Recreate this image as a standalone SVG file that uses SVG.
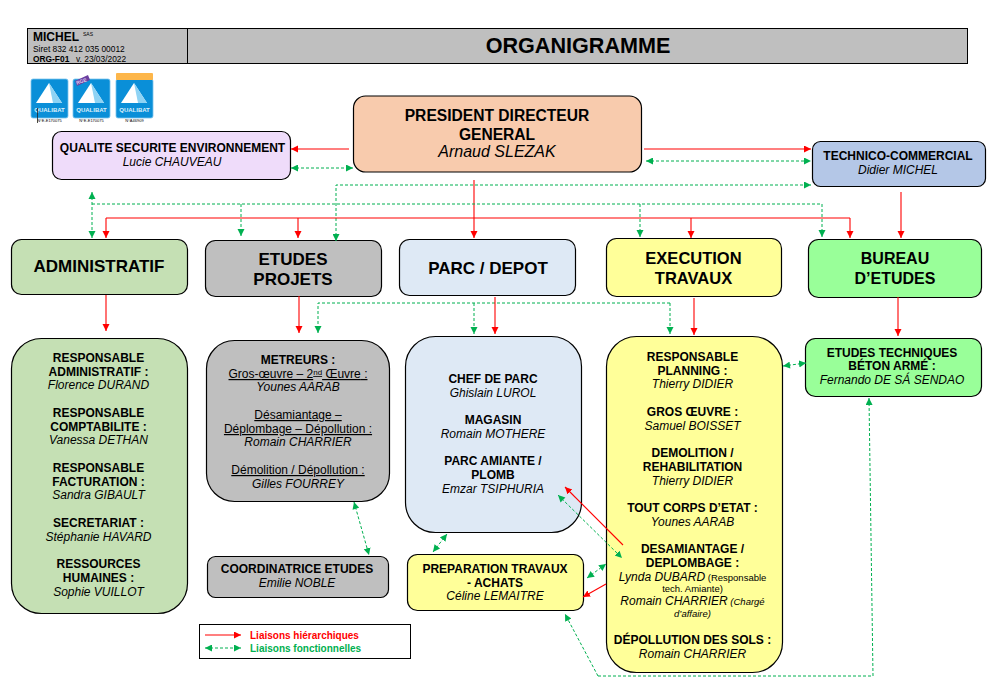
<svg xmlns="http://www.w3.org/2000/svg" width="997" height="682" viewBox="0 0 997 682">
<style>
text{font-family:"Liberation Sans",Arial,sans-serif;fill:#000;text-anchor:middle}
.b{font-weight:bold}.i{font-style:italic}.u{text-decoration:underline}
.n{stroke:#000;stroke-width:1.2}
.s{font-size:12px}.m{font-size:16px}.l{font-size:17px}
.r{fill:none;stroke:#f00;stroke-width:1.1}
.g{fill:none;stroke:#00b050;stroke-width:1;stroke-dasharray:3 2}
.ra{marker-end:url(#R)}.ga{marker-end:url(#G)}.gb{marker-start:url(#GS);marker-end:url(#G)}
.st{text-anchor:start}
</style>
<defs>
<marker id="R" markerUnits="userSpaceOnUse" markerWidth="8" markerHeight="8" refX="7" refY="3.500" orient="auto"><path d="M0 0L7 3.500L0 7z" fill="#f00"/></marker>
<marker id="G" markerUnits="userSpaceOnUse" markerWidth="8" markerHeight="8" refX="7" refY="3.500" orient="auto"><path d="M0 0L7 3.500L0 7z" fill="#00b050"/></marker>
<marker id="GS" markerUnits="userSpaceOnUse" markerWidth="8" markerHeight="8" refX="0" refY="3.500" orient="auto"><path d="M7 0L0 3.500L7 7z" fill="#00b050"/></marker>
<g id="pyr"><rect x="0" y="0" width="37" height="39" rx="2" fill="#0a8fd8" stroke="#7cc4ee" stroke-width="0.800"/><path d="M18 4L31 24H5z" fill="#fff"/><path d="M18 4L31 24L22 24z" fill="#8fd3f4"/></g>
</defs>
<g id="header">
<rect x="27.500" y="28.500" width="940" height="35" fill="#bfbfbf" stroke="#000"/>
<line x1="187.500" y1="28.500" x2="187.500" y2="63.500" stroke="#000"/>
<text class="b st" x="33" y="41" font-size="12">MICHEL</text>
<text class="st" x="83" y="35.500" font-size="5">SAS</text>
<text class="st" x="33" y="52" font-size="8.400">Siret 832 412 035 00012</text>
<text class="b st" x="33" y="62" font-size="8.400">ORG-F01</text>
<text class="st" x="76" y="62" font-size="8.400">v. 23/03/2022</text>
<text class="b" x="578" y="53" font-size="21.600">ORGANIGRAMME</text>
</g>
<g id="logos">
<use href="#pyr" x="31" y="79"/>
<text x="49.500" y="112" font-size="6" class="b" style="fill:#dff1fb">QUALIBAT</text>
<text x="49.500" y="122" font-size="4">N°E-E170075</text>
<line x1="37.500" y1="108" x2="37.500" y2="123" stroke="#222" stroke-width="0.800"/>
<use href="#pyr" x="73" y="79"/>
<path d="M75 81L88 75L90 80L77 86z" fill="#6b3fa0"/>
<text x="82" y="83" font-size="5" class="b" style="fill:#d9c8ee" transform="rotate(-20 82 83)">RGE</text>
<text x="91.500" y="112" font-size="6" class="b" style="fill:#dff1fb">QUALIBAT</text>
<text x="91.500" y="122" font-size="4">N°E-E170075</text>
<use href="#pyr" x="116" y="79"/>
<rect x="116" y="73" width="37" height="7" rx="1" fill="#fdb64a"/>
<text x="134.500" y="112" font-size="6" class="b" style="fill:#dff1fb">QUALIBAT</text>
<text x="134.500" y="122" font-size="4">N°A46909</text>
</g>
<g id="pdg"><rect class="n" x="353.500" y="96" width="288" height="76" rx="12" fill="#f8cbad"/>
<text class="b" font-size="15.600" x="497" y="121">PRESIDENT DIRECTEUR</text>
<text class="b" font-size="15.600" x="497" y="140">GENERAL</text>
<text class="i m" x="497" y="157">Arnaud SLEZAK</text></g>
<g id="qse"><rect class="n" x="52.500" y="131.500" width="238" height="48" rx="9" fill="#efdcfa"/>
<text class="b s" x="172.500" y="152">QUALITE SECURITE ENVIRONNEMENT</text>
<text class="i s" x="172" y="166">Lucie CHAUVEAU</text></g>
<g id="tc"><rect class="n" x="812.500" y="141.500" width="173" height="45" rx="8" fill="#b4c7e7"/>
<text class="b s" x="898" y="160">TECHNICO-COMMERCIAL</text>
<text class="i s" x="898" y="174">Didier MICHEL</text></g>
<g id="admin"><rect class="n" x="11.500" y="239.500" width="176" height="55" rx="10" fill="#c5e0b4"/>
<text class="b l" x="99" y="272">ADMINISTRATIF</text></g>
<g id="etudes"><rect class="n" x="205.500" y="240.500" width="176" height="56" rx="10" fill="#bfbfbf"/>
<text class="b l" x="293" y="265">ETUDES</text>
<text class="b l" x="293" y="285">PROJETS</text></g>
<g id="parc"><rect class="n" x="399.500" y="239.500" width="176" height="56" rx="10" fill="#dee9f5"/>
<text class="b l" x="488" y="274">PARC / DEPOT</text></g>
<g id="exec"><rect class="n" x="606.500" y="238.500" width="175" height="58" rx="10" fill="#ffff99"/>
<text class="b" font-size="16.500" x="693.500" y="264">EXECUTION</text>
<text class="b" font-size="16.500" x="693.500" y="284">TRAVAUX</text></g>
<g id="bureau"><rect class="n" x="808.500" y="239.500" width="173" height="58" rx="10" fill="#99ff99"/>
<text class="b m" x="895" y="264">BUREAU</text>
<text class="b m" x="895" y="284">D’ETUDES</text></g>
<g id="respadmin"><rect class="n" x="11.500" y="338.500" width="176" height="275" rx="30" fill="#c5e0b4"/>
<text class="b s" x="98.500" y="362">RESPONSABLE</text>
<text class="b s" x="98.500" y="376">ADMINISTRATIF :</text>
<text class="i s" x="98.500" y="389">Florence DURAND</text>
<text class="b s" x="98.500" y="417">RESPONSABLE</text>
<text class="b s" x="98.500" y="431">COMPTABILITE :</text>
<text class="i s" x="98.500" y="444">Vanessa DETHAN</text>
<text class="b s" x="98.500" y="472">RESPONSABLE</text>
<text class="b s" x="98.500" y="486">FACTURATION :</text>
<text class="i s" x="98.500" y="499">Sandra GIBAULT</text>
<text class="b s" x="98.500" y="527">SECRETARIAT :</text>
<text class="i s" x="98.500" y="541">Stéphanie HAVARD</text>
<text class="b s" x="98.500" y="568">RESSOURCES</text>
<text class="b s" x="98.500" y="582">HUMAINES :</text>
<text class="i s" x="98.500" y="596">Sophie VUILLOT</text></g>
<g id="metreurs"><rect class="n" x="206.500" y="340.500" width="183" height="161" rx="28" fill="#bfbfbf"/>
<text class="b s" x="298" y="364">METREURS :</text>
<text class="s u" x="298" y="378">Gros-œuvre – 2<tspan font-size="8" dy="-3">nd</tspan><tspan dy="3"> Œuvre</tspan> :</text>
<text class="i s" x="298" y="391">Younes AARAB</text>
<text class="s u" x="298" y="419">Désamiantage –</text>
<text class="s u" x="298" y="433">Déplombage – Dépollution :</text>
<text class="i s" x="298" y="446">Romain CHARRIER</text>
<text class="s u" x="298" y="474">Démolition / Dépollution :</text>
<text class="i s" x="298" y="488">Gilles FOURREY</text></g>
<g id="coord"><rect class="n" x="207.500" y="556.500" width="181" height="41" rx="8" fill="#bfbfbf"/>
<text class="b s" x="297" y="573">COORDINATRICE ETUDES</text>
<text class="i s" x="297" y="587">Emilie NOBLE</text></g>
<g id="chef"><rect class="n" x="405.500" y="336.500" width="176" height="196" rx="30" fill="#dee9f5"/>
<text class="b s" x="493" y="383">CHEF DE PARC</text>
<text class="i s" x="493" y="397">Ghislain LUROL</text>
<text class="b s" x="493" y="424">MAGASIN</text>
<text class="i s" x="493" y="438">Romain MOTHERE</text>
<text class="b s" x="493" y="465">PARC AMIANTE /</text>
<text class="b s" x="493" y="479">PLOMB</text>
<text class="i s" x="493" y="493">Emzar TSIPHURIA</text></g>
<g id="prep"><rect class="n" x="407.500" y="554.500" width="176" height="56" rx="10" fill="#ffff99"/>
<text class="b s" x="495" y="573">PREPARATION TRAVAUX</text>
<text class="b s" x="495" y="587">- ACHATS</text>
<text class="i s" x="495" y="600">Céline LEMAITRE</text></g>
<g id="planning"><rect class="n" x="606.500" y="336.500" width="176" height="336" rx="30" fill="#ffff99"/>
<text class="b s" x="692.500" y="361">RESPONSABLE</text>
<text class="b s" x="692.500" y="375">PLANNING :</text>
<text class="i s" x="692.500" y="388">Thierry DIDIER</text>
<text class="b s" x="692.500" y="416">GROS ŒUVRE :</text>
<text class="i s" x="692.500" y="430">Samuel BOISSET</text>
<text class="b s" x="692.500" y="457">DEMOLITION /</text>
<text class="b s" x="692.500" y="471">REHABILITATION</text>
<text class="i s" x="692.500" y="485">Thierry DIDIER</text>
<text class="b s" x="692.500" y="512">TOUT CORPS D’ETAT :</text>
<text class="i s" x="692.500" y="526">Younes AARAB</text>
<text class="b s" x="692.500" y="553">DESAMIANTAGE /</text>
<text class="b s" x="692.500" y="567">DEPLOMBAGE :</text>
<text class="s" x="692.500" y="581"><tspan class="i">Lynda DUBARD</tspan><tspan font-size="9.500"> (Responsable</tspan></text>
<text x="692.500" y="592" font-size="9.500">tech. Amiante)</text>
<text class="s" x="692.500" y="605"><tspan class="i">Romain CHARRIER</tspan><tspan class="i" font-size="9.500"> (Chargé</tspan></text>
<text class="i" x="692.500" y="617" font-size="9.500">d’affaire)</text>
<text class="b s" x="692.500" y="644">DÉPOLLUTION DES SOLS :</text>
<text class="i s" x="692.500" y="658">Romain CHARRIER</text></g>
<g id="tech"><rect class="n" x="805.500" y="338.500" width="176" height="58" rx="10" fill="#99ff99"/>
<text class="b s" x="892" y="357">ETUDES TECHNIQUES</text>
<text class="b s" x="892" y="370">BÉTON ARMÉ :</text>
<text class="i s" x="892" y="384">Fernando DE SÁ SENDAO</text></g>
<g id="connectors">
<path class="r ra" d="M349 149H291"/>
<path class="g gb" d="M291 168H353"/>
<path class="r ra" d="M644 149H811"/>
<path class="g gb" d="M646 161H811"/>
<path class="g gb" d="M336 241V185H811"/>
<path class="r ra" d="M474 180V238"/>
<path class="r" d="M106 218H850"/>
<path class="r ra" d="M106 218V238"/>
<path class="r ra" d="M298 218V238"/>
<path class="r ra" d="M691 218V238"/>
<path class="r ra" d="M850 218V238"/>
<path class="g" d="M92 204H822"/>
<path class="g gb" d="M92 192V238"/>
<path class="g ga" d="M241 204V236"/>
<path class="g ga" d="M640 204V237"/>
<path class="g ga" d="M822 204V237"/>
<path class="r ra" d="M901 192V238"/>
<path class="r ra" d="M106 295V331"/>
<path class="r ra" d="M299 296V333"/>
<path class="g ga" d="M670 303H318V333"/>
<path class="g ga" d="M474 303V334"/>
<path class="g ga" d="M670 303V334"/>
<path class="r ra" d="M495 297V334"/>
<path class="r ra" d="M694 298V335"/>
<path class="r ra" d="M898 297V336"/>
<path class="g gb" d="M783 366L806 363"/>
<path class="g ga" d="M598 676H873L869 398"/>
<path class="g ga" d="M598 676L565 614"/>
<path class="r ra" d="M623 545L565 487"/>
<path class="g gb" d="M558 495L622 558"/>
<path class="g gb" d="M433 552L447 534"/>
<path class="g gb" d="M587 578L606 564"/>
<path class="r ra" d="M606 584L583 597"/>
<path class="g gb" d="M354 502L369 555"/>
</g>
<g id="legend"><rect x="199.500" y="624.500" width="211" height="34" fill="#fff" stroke="#000"/>
<path class="r ra" d="M205 635H241"/>
<path class="g gb" d="M205 648H241"/>
<text class="b st" x="250" y="639" font-size="10" style="fill:#f00">Liaisons hiérarchiques</text>
<text class="b st" x="250" y="652" font-size="10" style="fill:#00b050">Liaisons fonctionnelles</text></g>
</svg>
